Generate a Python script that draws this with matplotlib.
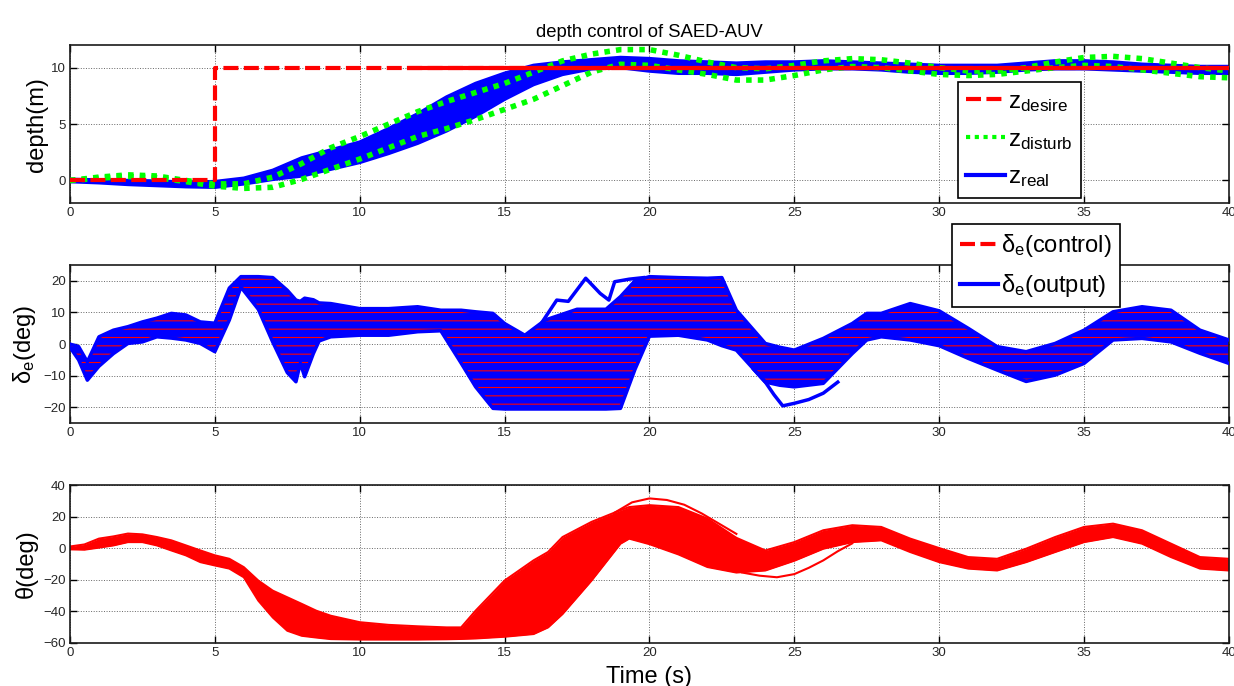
import matplotlib
matplotlib.use('Agg')
import matplotlib.pyplot as plt
from matplotlib.lines import Line2D

plt.rcParams['font.family'] = ['Liberation Sans', 'DejaVu Sans']
plt.rcParams['mathtext.fontset'] = 'custom'
plt.rcParams['mathtext.rm'] = 'Liberation Sans'
plt.rcParams['mathtext.it'] = 'Liberation Sans'
plt.rcParams['mathtext.default'] = 'regular'
plt.rcParams['hatch.linewidth'] = 0.8

BLUE = '#0000ff'
RED = '#ff0000'
GREEN = '#00ff00'

# ---- depth (top panel) ----
depth_t = [0, 1, 2, 3, 4, 5, 6, 7, 8, 9, 10, 11, 12, 13, 14, 15, 16, 17, 18, 19, 20,
           21, 22, 23, 24, 25, 26, 27, 28, 29, 30, 31, 32, 33, 34, 35, 36, 37, 38, 39, 40]
real_lo = [-0.1, -0.2, -0.35, -0.45, -0.55, -0.6, -0.3, 0.1, 0.4, 1.0, 1.6, 2.4, 3.3, 4.4,
           5.7, 7.2, 8.5, 9.4, 9.9, 10.0, 9.7, 9.5, 9.5, 9.4, 9.6, 9.8, 9.9, 9.9, 9.8, 9.6,
           9.5, 9.5, 9.6, 9.8, 9.9, 9.9, 9.8, 9.7, 9.6, 9.5, 9.5]
real_hi = [0.1, 0.05, 0.0, -0.05, -0.15, -0.1, 0.2, 0.9, 2.0, 2.7, 3.4, 4.6, 5.9, 7.4, 8.6,
           9.5, 10.2, 10.5, 10.7, 10.9, 10.8, 10.6, 10.5, 10.4, 10.5, 10.5, 10.6, 10.5, 10.4,
           10.3, 10.2, 10.2, 10.2, 10.4, 10.6, 10.6, 10.5, 10.3, 10.2, 10.1, 10.1]
disturb_hi = [0.0, 0.3, 0.5, 0.4, 0.0, -0.3, -0.3, 0.3, 1.5, 2.9, 3.9, 5.0, 6.1, 7.0, 7.8,
              8.6, 9.6, 10.6, 11.2, 11.6, 11.6, 11.1, 10.5, 10.0, 9.9, 10.2, 10.6, 10.8, 10.7,
              10.4, 10.0, 9.7, 9.7, 10.0, 10.5, 10.9, 11.0, 10.8, 10.4, 10.0, 9.7]
disturb_lo = [0.0, 0.2, 0.35, 0.25, -0.1, -0.5, -0.7, -0.6, 0.1, 1.0, 1.9, 2.9, 3.9, 4.6,
              5.4, 6.3, 7.2, 8.4, 9.6, 10.3, 10.2, 9.8, 9.4, 8.9, 8.9, 9.3, 9.8, 10.1, 10.0,
              9.7, 9.4, 9.3, 9.4, 9.7, 10.0, 10.2, 10.1, 9.8, 9.5, 9.2, 9.1]
desire_t = [0, 5, 5, 40]
desire_z = [0, 0, 10, 10]
desire_solid_t = [11.7, 40]
desire_solid_z = [10, 10]

# ---- elevator angle (middle panel) ----
de_t = [0, 0.3, 0.6, 1, 1.5, 2, 2.5, 3, 3.5, 4, 4.5, 5, 5.5, 5.9, 6.5, 7, 7.5, 7.8, 7.95,
        8.1, 8.4, 8.6, 9, 10, 11, 12, 12.8, 13.5, 14, 14.6, 15, 15.7, 16.4, 17.5, 18.5, 19,
        19.5, 20, 21, 22, 22.5, 23, 24, 24.5, 25, 26, 27, 27.5, 28, 29, 30, 31, 32, 33, 34,
        35, 36, 37, 38, 39, 40]
de_lo = [-1, -5, -11.4, -7, -3, 0.2, 0.7, 2.3, 1.9, 1.3, 0.2, -2.4, 7.6, 18, 11, 0.6, -9,
         -11.9, -6, -10.3, -3, 1, 2.3, 2.8, 2.8, 3.9, 4.2, -6, -13.5, -20.3, -20.5, -20.5,
         -20.5, -20.5, -20.5, -20.3, -8, 2.5, 2.8, 1.3, -0.5, -1.9, -12, -13, -13.5, -12.4,
         -3, 1.3, 2.3, 1.3, -0.5, -4.5, -8.2, -11.8, -9.8, -6.1, 1.3, 1.8, 0.7, -2.9, -6.1]
de_hi = [0, -0.8, -5.6, 2.3, 4.4, 5.5, 7.0, 8.2, 9.7, 9.2, 7.0, 6.6, 17.7, 21.3, 21.3, 21,
         17, 13.9, 13.5, 14.5, 14, 13, 12.8, 11.2, 11.2, 11.8, 10.7, 10.7, 10.2, 9.7, 6.5,
         2.8, 7.6, 11, 11, 15, 20, 21.3, 21, 20.8, 21, 10.7, 0.2, -1, -1.9, 1.8, 6.5, 9.7,
         9.7, 12.8, 10.5, 5, -0.8, -2.4, 0.2, 4.4, 10.2, 11.8, 10.7, 4.4, 1.3]
de_out1_t = [16.3, 16.8, 17.2, 17.8, 18.3, 18.6, 18.8, 19.3, 19.8]
de_out1_v = [7, 13.9, 13.5, 20.8, 16, 13.9, 19.7, 20.5, 21]
de_out2_t = [23.6, 24.0, 24.3, 24.6, 25.0, 25.5, 26.0, 26.5]
de_out2_v = [-8, -12, -16, -19.5, -18.7, -17.5, -15.5, -12]

# ---- pitch angle (bottom panel) ----
th_t = [0, 0.5, 1, 1.5, 2, 2.5, 3, 3.5, 4, 4.5, 5, 5.5, 6, 6.5, 7, 7.5, 8, 8.5, 9, 10, 11,
        12, 13, 13.5, 14, 15, 16, 16.5, 17, 18, 19, 19.3, 20, 21, 22, 23, 24, 25, 26, 27,
        28, 29, 30, 31, 32, 33, 34, 35, 36, 37, 38, 39, 40]
th_lo = [-0.8, -1, 0.3, 1.7, 3.8, 3.8, 1.7, -1.5, -4.6, -8.9, -11, -13, -18.5, -33.3, -44,
         -52.4, -55.6, -56.7, -57.7, -58, -58, -58, -57.8, -57.6, -57.3, -56.2, -54.5,
         -50.3, -41.8, -20.6, 2.8, 6, 2.5, -4, -12, -15.5, -14.2, -8, -0.4, 3.8, 4.9, -2.5,
         -8.9, -13, -14.2, -8.9, -2.5, 3.8, 7, 2.8, -5.7, -13, -14.2]
th_hi = [1, 2.3, 6, 7.4, 9.2, 8.7, 7, 4.9, 1.7, -1.5, -4.6, -6.8, -12.1, -20.6, -27, -31.2,
         -35.4, -39.7, -42.9, -47, -48.7, -49.6, -50.3, -50.3, -39.7, -20.6, -7.8, -2.5, 7,
         16.6, 24, 26, 27.2, 26, 18.7, 6.5, -1.5, 3.8, 11.3, 14.5, 13.4, 6, 0, -5.7, -6.8,
         -0.4, 7, 13.4, 15.5, 11.3, 2.8, -5.7, -6.8]
th_out1_t = [18.8, 19.4, 20.0, 20.6, 21.2, 21.8, 22.4, 23.0]
th_out1_v = [22.5, 29, 31.5, 30.5, 27.5, 22, 15.5, 9]
th_out2_t = [23.2, 23.8, 24.4, 25.0, 25.5, 26.0, 26.5, 27.0]
th_out2_v = [-15.5, -17.5, -18.5, -16.5, -12.5, -7.8, -2, 3]


def style(ax, ylim, yticks):
    ax.set_xlim(0, 40)
    ax.set_ylim(*ylim)
    ax.set_xticks(range(0, 41, 5))
    ax.set_yticks(yticks)
    ax.grid(True, linestyle=':', color='0.4', linewidth=0.7)
    ax.set_axisbelow(True)
    ax.tick_params(direction='in', top=True, right=True, length=5, width=1,
                   labelsize=9.5, labelcolor='0.15', pad=3)
    for s in ax.spines.values():
        s.set_linewidth(1.2)
        s.set_color('0.1')


fig = plt.figure(figsize=(12.34, 6.86), dpi=100)
ax1 = fig.add_axes([0.0567, 0.704, 0.9392, 0.2303])
ax2 = fig.add_axes([0.0567, 0.383, 0.9392, 0.2308])
ax3 = fig.add_axes([0.0567, 0.0631, 0.9392, 0.2299])

# top: depth
ax1.fill_between(depth_t, real_lo, real_hi, color=BLUE, lw=0, zorder=2)
ax1.plot(depth_t, real_lo, color=BLUE, lw=2.5, zorder=2)
ax1.plot(depth_t, real_hi, color=BLUE, lw=2.5, zorder=2)
ax1.plot(depth_t, disturb_hi, color=GREEN, lw=4, dashes=(1, 1.1), zorder=3)
ax1.plot(depth_t, disturb_lo, color=GREEN, lw=4, dashes=(1, 1.1), zorder=3)
ax1.plot(desire_t, desire_z, color=RED, lw=3, dashes=(3.6, 1.3), zorder=4)
ax1.plot(desire_solid_t, desire_solid_z, color=RED, lw=3, zorder=4)
style(ax1, (-2, 12), [0, 5, 10])
ax1.set_ylabel('depth(m)', fontsize=17, labelpad=2)
ax1.set_title('depth control of SAED-AUV', fontsize=13.3, pad=6)
h1 = [Line2D([], [], color=RED, lw=3, dashes=(3.6, 1.3)),
      Line2D([], [], color=GREEN, lw=3, dashes=(1, 1.1)),
      Line2D([], [], color=BLUE, lw=3)]
leg1 = ax1.legend(h1, ['z$_{desire}$', 'z$_{disturb}$', 'z$_{real}$'],
                  loc='lower left', bbox_to_anchor=(0.766, 0.032), fontsize=17.5,
                  fancybox=False, edgecolor='black', framealpha=1,
                  handlelength=1.6, handletextpad=0.12, borderpad=0.35,
                  labelspacing=0.62, borderaxespad=0)
leg1.get_frame().set_linewidth(1.2)
leg1.set_zorder(10)

# middle: elevator
ax2.fill_between(de_t, de_lo, de_hi, facecolor=BLUE, edgecolor=RED, hatch='--',
                 linewidth=0, zorder=2)
ax2.plot(de_t, de_lo, color=BLUE, lw=2.5, zorder=3)
ax2.plot(de_t, de_hi, color=BLUE, lw=2.5, zorder=3)
ax2.plot(de_out1_t, de_out1_v, color=BLUE, lw=2.5, zorder=3)
ax2.plot(de_out2_t, de_out2_v, color=BLUE, lw=2.5, zorder=3)
style(ax2, (-25, 25), [-20, -10, 0, 10, 20])
ax2.set_ylabel('δ$_{e}$(deg)', fontsize=17)
h2 = [Line2D([], [], color=RED, lw=3, dashes=(3.6, 1.3)),
      Line2D([], [], color=BLUE, lw=3)]
leg2 = ax2.legend(h2, ['δ$_{e}$(control)', 'δ$_{e}$(output)'],
                  loc='upper left', bbox_to_anchor=(0.761, 1.259), fontsize=17,
                  fancybox=False, edgecolor='black', framealpha=1,
                  handlelength=1.6, handletextpad=0.12, borderpad=0.35,
                  labelspacing=0.55, borderaxespad=0)
leg2.get_frame().set_linewidth(1.2)
leg2.set_zorder(10)

# bottom: pitch
ax3.fill_between(th_t, th_lo, th_hi, color=RED, lw=0, zorder=2)
ax3.plot(th_t, th_lo, color=RED, lw=1.5, zorder=2)
ax3.plot(th_t, th_hi, color=RED, lw=1.5, zorder=2)
ax3.plot(th_out1_t, th_out1_v, color=RED, lw=1.5, zorder=2)
ax3.plot(th_out2_t, th_out2_v, color=RED, lw=1.5, zorder=2)
style(ax3, (-60, 40), [-60, -40, -20, 0, 20, 40])
ax3.set_ylabel('θ(deg)', fontsize=17)
ax3.set_xlabel('Time (s)', fontsize=17, labelpad=5)

fig.savefig('out.png', dpi=100)
